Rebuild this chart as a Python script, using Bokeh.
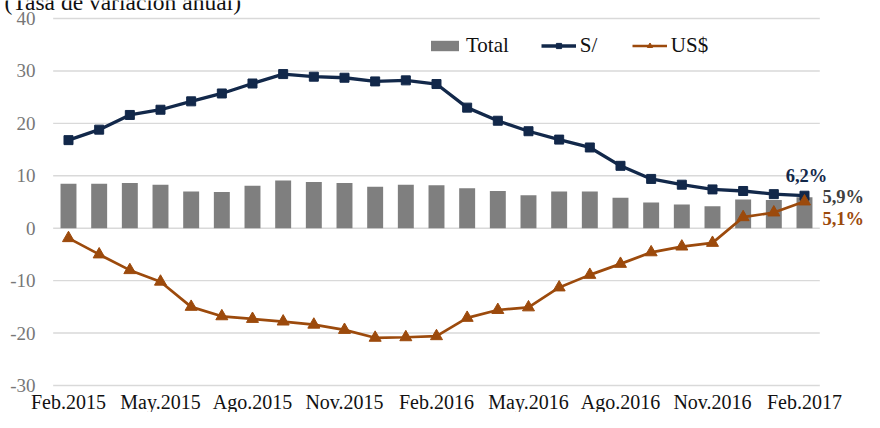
from bokeh.plotting import figure
from bokeh.models import Range1d, Legend, LegendItem
from bokeh.core.properties import value
from bokeh.embed import file_html
from bokeh.resources import INLINE

months = ["Feb.2015", "Mar.2015", "Abr.2015", "May.2015", "Jun.2015", "Jul.2015",
          "Ago.2015", "Set.2015", "Oct.2015", "Nov.2015", "Dic.2015", "Ene.2016",
          "Feb.2016", "Mar.2016", "Abr.2016", "May.2016", "Jun.2016", "Jul.2016",
          "Ago.2016", "Set.2016", "Oct.2016", "Nov.2016", "Dic.2016", "Ene.2017",
          "Feb.2017"]
total = [8.5, 8.5, 8.6, 8.3, 7.0, 6.9, 8.1, 9.1, 8.8, 8.6, 7.9, 8.3, 8.2,
         7.6, 7.1, 6.3, 7.0, 7.0, 5.8, 4.9, 4.5, 4.2, 5.5, 5.4, 5.9]
soles = [16.8, 18.8, 21.6, 22.6, 24.2, 25.7, 27.6, 29.4, 28.9, 28.7, 28.0, 28.2, 27.5,
         23.0, 20.5, 18.5, 16.9, 15.4, 11.9, 9.4, 8.3, 7.4, 7.1, 6.5, 6.2]
usd = [-1.9, -5.0, -8.0, -10.2, -15.0, -16.8, -17.3, -17.8, -18.4, -19.4, -20.9, -20.8, -20.6,
       -17.1, -15.6, -15.1, -11.3, -8.9, -6.8, -4.6, -3.5, -2.8, 2.1, 3.0, 5.1]
y_ticks = [-30, -20, -10, 0, 10, 20, 30, 40]
x_tick_step = 3
title_text = "(Tasa de variación anual)"

NAVY = "#12284a"
ORANGE = "#9c4a0c"
GRAY = "#7f7f7f"
FONT = value("Liberation Serif")

n = len(months)
idx = list(range(n))

# The frame covers the whole canvas so that texts outside the data area are not clipped.
p = figure(width=864, height=412, output_backend="svg", toolbar_location=None,
           title=None,
           x_range=Range1d(-2.2174, 25.957), y_range=Range1d(-35.15, 43.433),
           min_border_left=0, min_border_right=0, min_border_top=0,
           min_border_bottom=0)
p.axis.visible = False
p.grid.visible = False
p.outline_line_color = None
p.background_fill_color = "white"

x_lo, x_hi = -0.5, n - 0.5

# horizontal gridlines
p.segment(x0=[x_lo] * len(y_ticks), x1=[x_hi] * len(y_ticks), y0=y_ticks, y1=y_ticks,
          line_color="#d9d9d9", line_width=1.4)

# y tick labels
p.text(x=[x_lo] * len(y_ticks), y=y_ticks, text=[str(t) for t in y_ticks],
       x_offset=-17.7, text_align="right", text_baseline="middle", text_font=FONT,
       text_font_size="19px", text_color="#777777")

# x tick labels
xt = idx[::x_tick_step]
p.text(x=xt, y=[y_ticks[0]] * len(xt), text=[months[i] for i in xt],
       y_offset=17, text_align="center", text_baseline="middle", text_font=FONT,
       text_font_size="20px", text_color="#111111")

# series
bars = p.vbar(x=idx, top=total, width=0.52, fill_color=GRAY, line_color=None)
l1 = p.line(idx, soles, line_color=NAVY, line_width=3.3)
s1 = p.scatter(idx, soles, marker="square", size=9, fill_color=NAVY, line_color=NAVY)
l2 = p.line(idx, usd, line_color=ORANGE, line_width=2.7)
s2 = p.scatter(idx, usd, marker="triangle", size=12, fill_color=ORANGE, line_color=ORANGE)

legend = Legend(items=[LegendItem(label="Total", renderers=[bars]),
                       LegendItem(label="S/", renderers=[l1, s1]),
                       LegendItem(label="US$", renderers=[l2, s2])],
                orientation="horizontal", location=(427, 354),
                glyph_width=35, glyph_height=13, label_standoff=4, spacing=32,
                padding=0, margin=0, border_line_color=None,
                background_fill_alpha=0, label_text_font="Liberation Serif",
                label_text_font_size="21px", label_text_color="#111111")
p.add_layout(legend)

def fmt(v):
    return f"{v:.1f}".replace(".", ",") + "%"

last = idx[-1]
p.text(x=[last], y=[soles[-1]], text=[fmt(soles[-1])], x_offset=2, y_offset=-19.5,
       text_align="center", text_baseline="middle", text_font=FONT,
       text_font_size="18.5px", text_font_style=value("bold"), text_color=NAVY)
p.text(x=[last], y=[total[-1]], text=[fmt(total[-1])], x_offset=18, y_offset=0,
       text_align="left", text_baseline="middle", text_font=FONT,
       text_font_size="18.5px", text_font_style=value("bold"), text_color="#404040")
p.text(x=[last], y=[usd[-1]], text=[fmt(usd[-1])], x_offset=18, y_offset=17.6,
       text_align="left", text_baseline="middle", text_font=FONT,
       text_font_size="18.5px", text_font_style=value("bold"), text_color=ORANGE)

# title, cropped at the top edge as in the reference
p.text(x=[x_lo], y=[y_ticks[-1]], text=[title_text], x_offset=-48.7, y_offset=-16,
       text_align="left", text_baseline="middle", text_font=FONT,
       text_font_size="23.5px", text_color="#111111")

open("out.html", "w").write(file_html(p, INLINE))
